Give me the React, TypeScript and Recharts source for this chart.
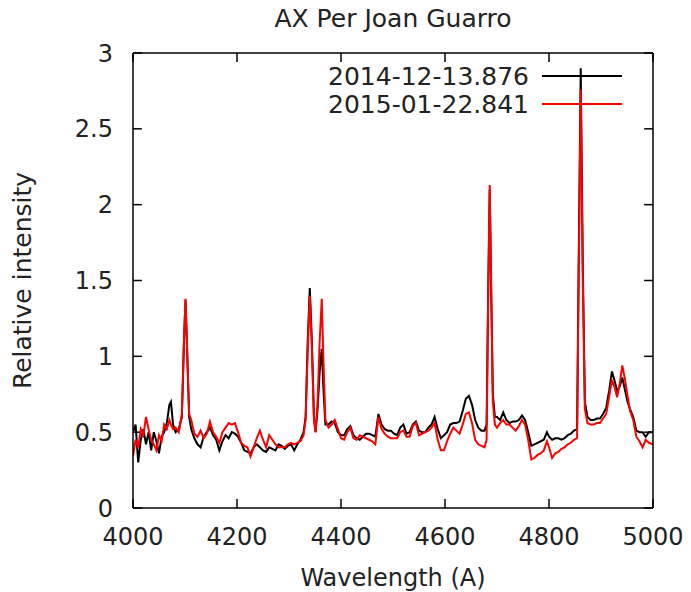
import React from "react";
import { LineChart, Line, XAxis, YAxis, Legend, ReferenceLine } from "recharts";

// wavelength grid (A), shared by both spectra
const wavelengths = [
  4000, 4005, 4010, 4015, 4020, 4025, 4030, 4035, 4040, 4045, 4050, 4055, 4060, 4065, 4070, 4073, 4077, 4082, 4088, 4094,
  4098, 4101, 4104, 4108, 4112, 4118, 4124, 4130, 4136, 4142, 4148, 4154, 4160, 4166, 4172, 4178, 4184, 4190, 4196, 4202,
  4208, 4214, 4220, 4226, 4232, 4238, 4244, 4250, 4256, 4262, 4268, 4274, 4280, 4286, 4292, 4298, 4304, 4310, 4316, 4322,
  4328, 4332, 4336, 4340, 4344, 4348, 4351, 4355, 4359, 4363, 4366, 4370, 4376, 4382, 4388, 4394, 4400, 4406, 4412, 4418,
  4424, 4430, 4436, 4442, 4448, 4454, 4460, 4466, 4472, 4478, 4484, 4490, 4496, 4502, 4508, 4514, 4520, 4526, 4532, 4538,
  4544, 4550, 4556, 4562, 4568, 4574, 4580, 4586, 4592, 4598, 4604, 4610, 4616, 4622, 4628, 4634, 4640, 4646, 4652, 4658,
  4664, 4670, 4676, 4680, 4683, 4686, 4689, 4692, 4696, 4700, 4706, 4712, 4718, 4724, 4730, 4736, 4742, 4748, 4754, 4760,
  4766, 4772, 4778, 4784, 4790, 4796, 4800, 4806, 4812, 4818, 4824, 4830, 4836, 4842, 4848, 4854, 4857, 4861, 4865, 4869,
  4874, 4880, 4886, 4892, 4898, 4904, 4910, 4916, 4921, 4926, 4931, 4936, 4941, 4946, 4951, 4956, 4962, 4968, 4974, 4980,
  4986, 4992, 5000,
];

// 2014-12-13.876 (black)
const spectrum2014 = [
  0.50, 0.55, 0.30, 0.45, 0.52, 0.42, 0.50, 0.38, 0.50, 0.44, 0.36, 0.47, 0.50, 0.56, 0.68, 0.70, 0.55, 0.50, 0.52, 0.60,
  1.10, 1.37, 1.05, 0.60, 0.52, 0.46, 0.42, 0.40, 0.47, 0.50, 0.53, 0.48, 0.45, 0.38, 0.44, 0.48, 0.46, 0.50, 0.49, 0.47,
  0.43, 0.38, 0.37, 0.36, 0.40, 0.42, 0.40, 0.38, 0.37, 0.40, 0.39, 0.38, 0.42, 0.41, 0.39, 0.41, 0.42, 0.38, 0.42, 0.45,
  0.50, 0.60, 1.10, 1.45, 1.10, 0.60, 0.50, 0.65, 0.90, 1.05, 0.80, 0.55, 0.55, 0.57, 0.56, 0.50, 0.48, 0.48, 0.52, 0.54,
  0.48, 0.46, 0.45, 0.47, 0.49, 0.49, 0.48, 0.47, 0.62, 0.55, 0.52, 0.51, 0.51, 0.49, 0.48, 0.53, 0.55, 0.49, 0.50, 0.55,
  0.57, 0.51, 0.50, 0.50, 0.53, 0.55, 0.60, 0.52, 0.46, 0.48, 0.50, 0.55, 0.56, 0.56, 0.57, 0.64, 0.72, 0.74, 0.68, 0.58,
  0.53, 0.51, 0.51, 0.55, 1.40, 2.10, 1.40, 0.75, 0.60, 0.60, 0.58, 0.63, 0.58, 0.56, 0.57, 0.57, 0.58, 0.61, 0.58, 0.50,
  0.41, 0.42, 0.43, 0.44, 0.45, 0.50, 0.47, 0.45, 0.46, 0.46, 0.45, 0.46, 0.48, 0.49, 0.51, 0.52, 1.60, 2.90, 1.60, 0.70,
  0.60, 0.58, 0.58, 0.59, 0.59, 0.62, 0.66, 0.78, 0.90, 0.84, 0.77, 0.80, 0.86, 0.78, 0.70, 0.65, 0.60, 0.51, 0.50, 0.50,
  0.47, 0.50, 0.50,
];

// 2015-01-22.841 (red)
const spectrum2015 = [
  0.34, 0.45, 0.40, 0.52, 0.48, 0.60, 0.52, 0.45, 0.42, 0.38, 0.48, 0.44, 0.55, 0.52, 0.58, 0.55, 0.52, 0.53, 0.50, 0.62,
  1.10, 1.38, 1.05, 0.62, 0.58, 0.49, 0.47, 0.51, 0.46, 0.49, 0.57, 0.50, 0.47, 0.43, 0.50, 0.53, 0.56, 0.55, 0.56, 0.50,
  0.43, 0.41, 0.40, 0.34, 0.40, 0.46, 0.51, 0.45, 0.40, 0.48, 0.45, 0.42, 0.40, 0.40, 0.40, 0.42, 0.43, 0.42, 0.43, 0.44,
  0.48, 0.58, 1.05, 1.40, 1.05, 0.58, 0.50, 0.70, 1.10, 1.38, 1.00, 0.58, 0.53, 0.55, 0.58, 0.52, 0.46, 0.45, 0.50, 0.53,
  0.46, 0.45, 0.48, 0.47, 0.46, 0.45, 0.44, 0.42, 0.60, 0.52, 0.49, 0.47, 0.46, 0.46, 0.46, 0.50, 0.51, 0.47, 0.47, 0.54,
  0.56, 0.48, 0.49, 0.50, 0.51, 0.53, 0.56, 0.45, 0.38, 0.38, 0.44, 0.49, 0.53, 0.51, 0.49, 0.55, 0.62, 0.63, 0.56, 0.45,
  0.42, 0.41, 0.40, 0.45, 1.40, 2.13, 1.40, 0.70, 0.55, 0.53, 0.56, 0.58, 0.55, 0.55, 0.53, 0.51, 0.54, 0.58, 0.55, 0.45,
  0.32, 0.33, 0.35, 0.36, 0.38, 0.44, 0.40, 0.33, 0.36, 0.37, 0.39, 0.40, 0.42, 0.43, 0.45, 0.46, 1.50, 2.76, 1.50, 0.65,
  0.56, 0.55, 0.55, 0.56, 0.56, 0.59, 0.62, 0.74, 0.84, 0.80, 0.73, 0.82, 0.94, 0.85, 0.74, 0.64, 0.58, 0.47, 0.44, 0.40,
  0.45, 0.43, 0.42,
];

const xTicks = [4000, 4200, 4400, 4600, 4800, 5000];
const yTicks = [0, 0.5, 1, 1.5, 2, 2.5, 3];
const X_MIN = 4000;
const X_MAX = 5000;
const Y_MIN = 0;
const Y_MAX = 3;

const data = wavelengths.map((wl, i) => ({
  wl,
  a: spectrum2014[i],
  b: spectrum2015[i],
}));

const FONT = "DejaVu Sans, Verdana, sans-serif";
const TEXT = "#222";
const axisLine = { stroke: "#000", strokeWidth: 1.5 };
const tickText = { fill: TEXT, fontSize: 24, fontFamily: FONT };

// inward tick length, in axis units (~9px)
const TICK_LEN_X = 17;
const TICK_LEN_Y = 0.06;

const renderLegend = (props: any) => {
  const items = props.payload || [];
  return (
    <svg width={340} height={70} style={{ overflow: "visible" }}>
      {items.map((it: any, i: number) => (
        <g key={it.value}>
          <text
            x={229}
            y={21 + i * 28}
            textAnchor="end"
            dominantBaseline="central"
            fontSize={25}
            fontFamily={FONT}
            fill={TEXT}
          >
            {it.value}
          </text>
          <line x1={242} x2={322} y1={21 + i * 28} y2={21 + i * 28} stroke={it.color} strokeWidth={2} />
        </g>
      ))}
    </svg>
  );
};

const yLabel = (props: any) => {
  const vb = props.viewBox;
  const cx = vb.x + 22;
  const cy = vb.y + vb.height / 2;
  return (
    <text
      x={cx}
      y={cy}
      transform={`rotate(-90 ${cx} ${cy})`}
      textAnchor="middle"
      dominantBaseline="central"
      fontSize={25}
      fontFamily={FONT}
      fill={TEXT}
    >
      Relative intensity
    </text>
  );
};

const xLabel = (props: any) => {
  const vb = props.viewBox;
  return (
    <text
      x={vb.x + vb.width / 2}
      y={vb.y + 70}
      textAnchor="middle"
      dominantBaseline="central"
      fontSize={24}
      fontFamily={FONT}
      fill={TEXT}
    >
      Wavelength (A)
    </text>
  );
};

export default function App() {
  return (
    <div style={{ position: "absolute", left: 0, top: 0, width: 691, height: 592, background: "#fff", fontFamily: FONT }}>
      <div
        style={{
          position: "absolute",
          left: 133,
          top: 7,
          width: 520,
          textAlign: "center",
          fontSize: 25,
          lineHeight: "24px",
          color: TEXT,
        }}
      >
        AX Per Joan Guarro
      </div>
      <LineChart width={691} height={592} data={data} margin={{ top: 52, right: 37, bottom: 0, left: 0 }}>
        <XAxis
          dataKey="wl"
          type="number"
          domain={[X_MIN, X_MAX]}
          ticks={xTicks}
          interval={0}
          allowDataOverflow
          height={84}
          axisLine={axisLine}
          tickLine={false}
          tickSize={-9}
          tickMargin={29}
          tick={tickText}
          label={xLabel}
        />
        <XAxis
          xAxisId="top"
          orientation="top"
          dataKey="wl"
          type="number"
          domain={[X_MIN, X_MAX]}
          allowDataOverflow
          height={1}
          axisLine={axisLine}
          tickLine={false}
          tick={false}
        />
        <YAxis
          type="number"
          domain={[Y_MIN, Y_MAX]}
          ticks={yTicks}
          interval={0}
          allowDataOverflow
          width={133}
          axisLine={axisLine}
          tickLine={false}
          tickSize={-9}
          tickMargin={29}
          tick={tickText}
          label={yLabel}
        />
        <YAxis
          yAxisId="right"
          orientation="right"
          type="number"
          domain={[Y_MIN, Y_MAX]}
          allowDataOverflow
          width={1}
          axisLine={axisLine}
          tickLine={false}
          tick={false}
        />
        {/* inward tick marks on all four sides, as gnuplot draws them */}
        {xTicks.map((t) => (
          <ReferenceLine
            key={`xb${t}`}
            segment={[{ x: t, y: Y_MIN }, { x: t, y: Y_MIN + TICK_LEN_Y }]}
            stroke="#000"
            strokeWidth={1.5}
            ifOverflow="visible"
          />
        ))}
        {xTicks.map((t) => (
          <ReferenceLine
            key={`xt${t}`}
            segment={[{ x: t, y: Y_MAX }, { x: t, y: Y_MAX - TICK_LEN_Y }]}
            stroke="#000"
            strokeWidth={1.5}
            ifOverflow="visible"
          />
        ))}
        {yTicks.map((t) => (
          <ReferenceLine
            key={`yl${t}`}
            segment={[{ x: X_MIN, y: t }, { x: X_MIN + TICK_LEN_X, y: t }]}
            stroke="#000"
            strokeWidth={1.5}
            ifOverflow="visible"
          />
        ))}
        {yTicks.map((t) => (
          <ReferenceLine
            key={`yr${t}`}
            segment={[{ x: X_MAX, y: t }, { x: X_MAX - TICK_LEN_X, y: t }]}
            stroke="#000"
            strokeWidth={1.5}
            ifOverflow="visible"
          />
        ))}
        <Legend
          layout="vertical"
          align="center"
          verticalAlign="middle"
          content={renderLegend}
          wrapperStyle={{ left: 300, top: 55, width: 340, height: 70 }}
        />
        <Line
          type="linear"
          dataKey="a"
          name="2014-12-13.876"
          stroke="#000"
          strokeWidth={2}
          dot={false}
          isAnimationActive={false}
        />
        <Line
          type="linear"
          dataKey="b"
          name="2015-01-22.841"
          stroke="#ff0000"
          strokeWidth={2}
          dot={false}
          isAnimationActive={false}
        />
      </LineChart>
    </div>
  );
}
